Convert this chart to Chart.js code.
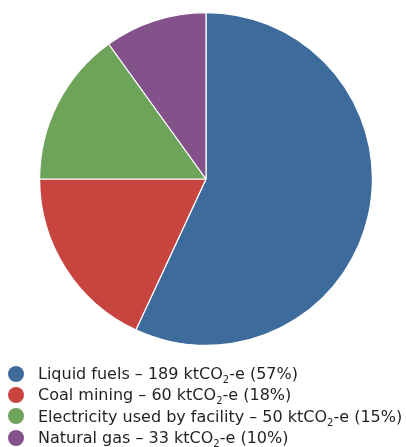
<!DOCTYPE html>
<html><head><meta charset="utf-8">
<script src="https://cdn.jsdelivr.net/npm/chart.js@4/dist/chart.umd.min.js"></script>
<style>
html,body{margin:0;padding:0;background:#fff;overflow:hidden}
#wrap{position:relative;width:406px;height:447px}
#legend{position:absolute;left:0;top:363px;width:406px;font-family:"DejaVu Sans",sans-serif;font-size:16px;color:#231f20}
.item{position:relative;height:21.4px;line-height:21.4px;white-space:nowrap;padding-left:38px}
.dot{position:absolute;left:8px;top:2.7px;width:16px;height:16px;border-radius:50%}
sub{font-size:10px;vertical-align:-4px;line-height:0}
</style>
</head><body><div id="wrap"><canvas id="c"></canvas><div id="legend"></div></div>
<script>
const categories = ["Liquid fuels", "Coal mining", "Electricity used by facility", "Natural gas"];
const values = [189, 60, 50, 33];
const percents = [57, 18, 15, 10];
const colors = ["#3d6c9c", "#c8443f", "#6ea45a", "#83528b"];
const labels = categories.map((c, i) => c + " – " + values[i] + " ktCO₂-e (" + percents[i] + "%)");

const chart = new Chart(document.getElementById("c"), {
  type: "pie",
  data: { labels: labels, datasets: [{ data: values, backgroundColor: colors, borderColor: "#fff", borderWidth: 1.2 }] },
  options: {
    responsive: true, maintainAspectRatio: false, animation: false,
    layout: { padding: { top: 12, bottom: 101, left: 6, right: 0 } },
    plugins: { tooltip: { enabled: false }, legend: { display: false } }
  }
});

const leg = document.getElementById("legend");
categories.forEach((c, i) => {
  const row = document.createElement("div");
  row.className = "item";
  const dot = document.createElement("span");
  dot.className = "dot";
  dot.style.background = colors[i];
  row.appendChild(dot);
  row.appendChild(document.createTextNode(c + " – " + values[i] + " ktCO"));
  const s = document.createElement("sub");
  s.textContent = "2";
  row.appendChild(s);
  row.appendChild(document.createTextNode("-e (" + percents[i] + "%)"));
  leg.appendChild(row);
});
</script></body></html>
